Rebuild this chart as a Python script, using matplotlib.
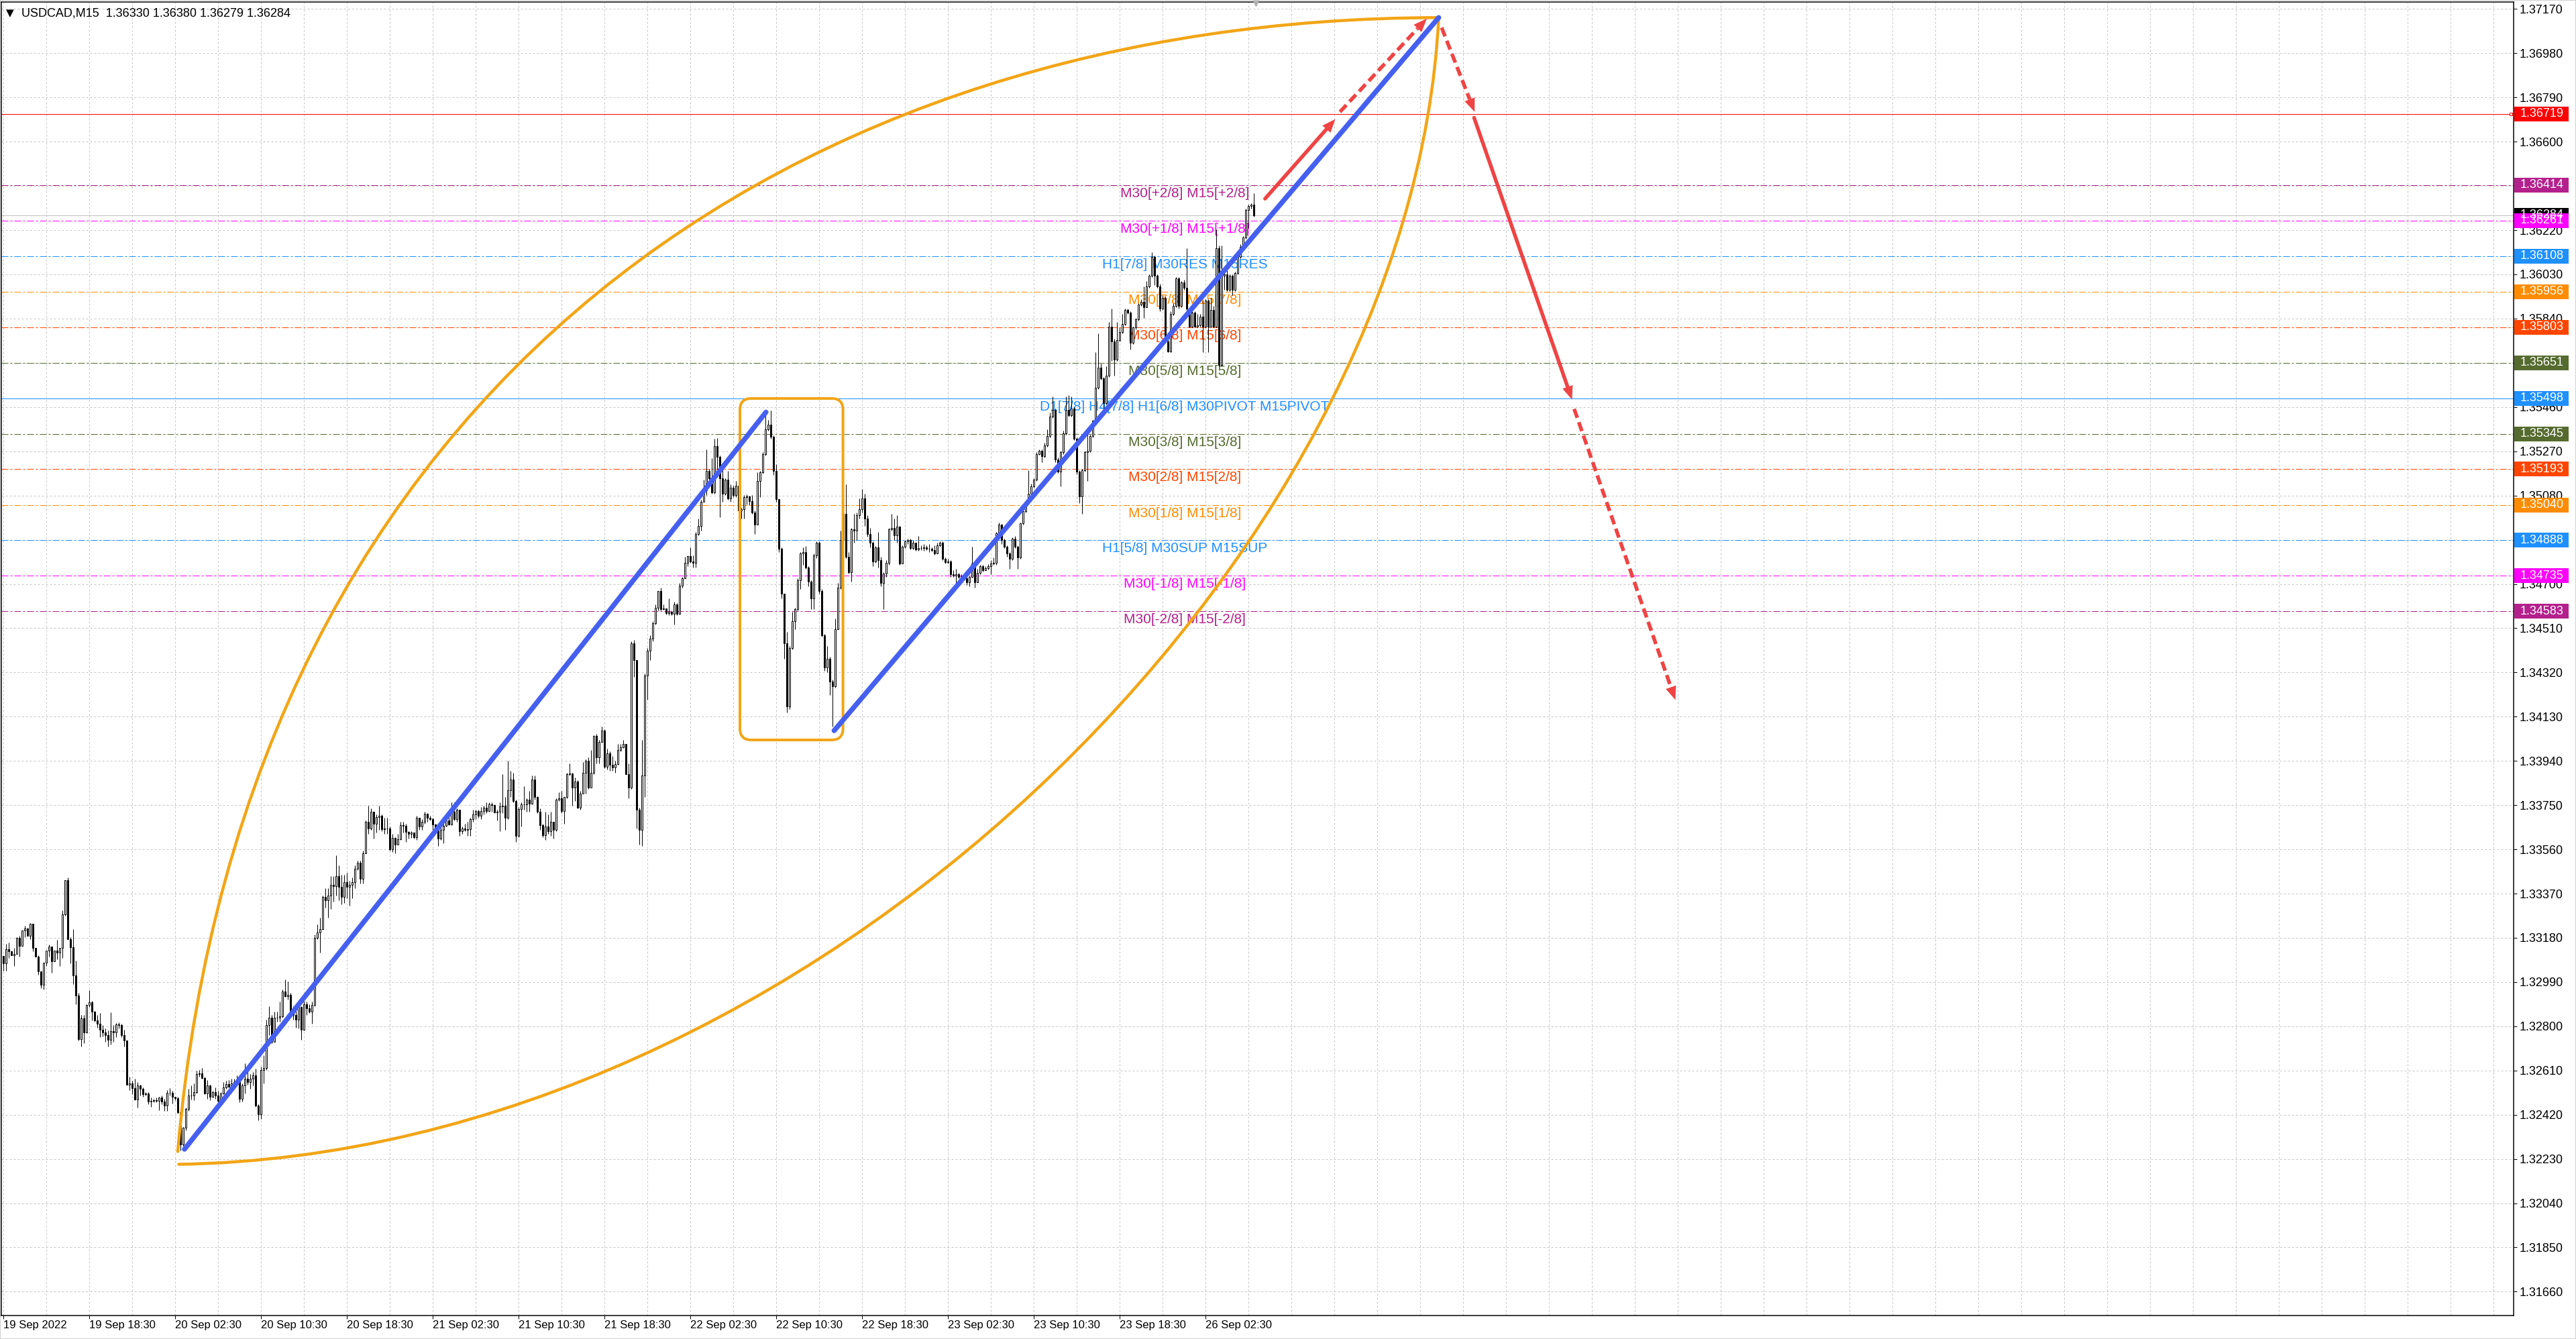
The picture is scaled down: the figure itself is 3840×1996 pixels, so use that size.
"""USDCAD M15 chart with Murrey levels, channel, arcs and forecast arrows."""

import matplotlib

matplotlib.use("Agg")
from matplotlib import pyplot as plt
from matplotlib import font_manager, transforms
from matplotlib.patches import FancyBboxPatch, PathPatch, Polygon, Rectangle
from matplotlib.path import Path

import numpy as np

PX = 0.72  # one pixel in points at dpi 100
plt.rcParams["lines.scale_dashes"] = False

# ---------------------------------------------------------------- data
header_text = "USDCAD,M15  1.36330 1.36380 1.36279 1.36284"
last_bar = 466
first_open = 310.2  # pips above 1.3000

close_pips = [
    306.9, 313.1, 312.2, 310.5, 311.2, 317.9, 314.6, 321.1, 322.0, 318.9,
    324.0, 313.6, 310.0, 303.5, 297.8, 307.4, 312.6, 314.3, 308.0, 312.6,
    311.7, 313.8, 328.0, 342.7, 317.4, 313.9, 301.9, 293.2, 274.4, 283.4,
    277.4, 289.1, 290.3, 286.2, 282.6, 281.0, 278.6, 277.4, 276.2, 274.2,
    277.9, 277.3, 280.7, 280.5, 276.2, 273.8, 254.8, 255.5, 253.4, 248.5,
    254.6, 253.1, 250.9, 251.2, 247.8, 248.1, 248.3, 248.1, 249.5, 247.8,
    245.9, 251.5, 251.4, 249.8, 249.1, 243.0, 229.1, 236.3, 244.5, 250.2,
    250.4, 251.7, 259.4, 259.8, 257.9, 251.2, 254.6, 249.8, 251.7, 250.2,
    248.0, 251.2, 253.6, 255.2, 254.1, 255.5, 256.0, 256.5, 248.8, 254.6,
    257.4, 256.0, 257.4, 258.9, 245.9, 242.1, 261.3, 262.2, 280.5, 283.6,
    273.3, 283.8, 283.6, 284.3, 294.9, 293.0, 293.4, 285.8, 284.8, 282.9,
    288.2, 278.6, 289.6, 287.7, 286.2, 289.3, 317.9, 320.3, 321.8,
    335.5, 334.2, 336.2, 340.7, 340.3, 344.5, 340.0, 335.5, 342.0, 340.0,
    340.7, 342.0, 347.8, 350.3, 343.3, 354.2, 367.7, 365.1, 372.2, 367.1,
    369.9, 370.3, 364.7, 364.9, 365.1, 356.1, 360.9, 358.1, 360.4, 366.4,
    366.0, 363.5, 362.6, 363.2, 361.3, 369.6, 365.8, 367.7, 371.2, 369.6,
    369.0, 366.8, 364.7, 360.6, 364.5, 366.0, 368.4, 366.8, 372.2, 369.0,
    372.9, 363.8, 364.9, 364.5, 364.7, 369.0, 370.9, 372.5, 370.3, 372.5,
    373.8, 372.5, 375.4, 375.0, 372.0, 372.2, 374.4, 374.8, 369.6, 381.5,
    386.1, 376.7, 361.9, 373.2, 375.2, 375.4, 377.4, 375.7, 386.1, 378.4,
    372.2, 366.4, 362.2, 365.8, 363.8, 367.7, 364.5, 377.4, 378.0, 372.5,
    378.4, 388.3, 388.6, 382.5, 385.1, 373.8, 379.9, 389.0, 394.1, 382.5,
    389.0, 404.6, 395.4, 402.2, 407.0, 391.5, 397.3, 392.2, 391.3, 392.5,
    398.6, 399.9, 401.2, 388.3, 382.5,
    444.6, 437.4, 372.9, 364.5, 387.8, 430.8, 441.3, 446.6, 453.2, 459.8,
    467.1, 459.2, 459.6, 457.6, 457.9, 457.2, 461.2, 457.2, 469.4, 472.4,
    479.0, 481.9, 479.7, 479.0, 491.6, 494.9, 505.4, 510.1, 518.7, 515.4,
    509.4, 529.2, 524.6, 515.4, 508.7, 514.7, 506.8, 511.4, 508.1, 512.1,
    501.5, 502.1, 507.4, 507.7, 505.5, 500.8, 495.5, 514.1, 518.0, 525.9,
    536.5, 538.5, 533.2, 518.7, 506.4, 485.0, 465.8, 444.6, 417.5, 442.6,
    453.9, 459.2, 471.7, 483.0, 483.6, 477.0, 471.1, 463.8, 482.3, 487.6,
    467.1, 447.9, 434.1, 438.0, 428.1, 426.1, 450.6, 468.4, 488.9, 500.2,
    481.7, 475.0, 493.5, 492.9, 499.5, 502.1, 506.8, 498.2, 491.6, 487.6,
    479.7, 485.6, 480.3, 470.4, 474.4, 479.0, 493.5, 494.2, 490.9, 494.5,
    478.9, 485.9, 488.3, 488.9, 485.4, 487.7, 484.8, 485.4, 485.4, 485.7,
    485.2, 485.0, 484.6, 483.0, 486.6, 487.7, 480.7, 479.5, 479.8, 474.2,
    473.6, 474.2, 473.1, 473.3, 472.5, 470.7, 473.1, 478.9, 470.7, 474.8,
    477.7, 476.0, 476.8, 477.5, 478.9, 479.2, 491.8, 495.4, 488.9, 485.9,
    483.0, 480.7, 489.5, 485.9, 481.3, 496.0, 501.2, 504.8, 508.9, 511.8,
    514.8, 525.9, 527.1, 524.8, 529.5, 533.6, 541.8, 544.8, 523.6, 518.3,
    526.5, 534.8, 544.8, 542.4, 545.3, 532.4, 518.3, 507.7, 518.9, 526.5,
    527.1, 533.6, 540.1, 554.2, 563.0, 558.3, 547.7, 559.5, 580.6, 574.2,
    566.5, 574.7, 578.3, 581.8, 587.7, 586.5, 573.6, 580.1, 583.6, 590.0,
    591.2, 588.9, 597.7, 602.4, 610.6, 602.4, 597.7, 588.3, 593.0, 574.2,
    570.0, 585.9, 589.4, 601.2, 589.4, 599.4, 597.1, 588.3, 580.6, 586.5,
    580.6, 581.2, 584.7, 580.6, 591.8, 580.6, 587.7, 580.6, 614.1, 564.2,
    602.4, 603.0, 596.5, 602.4, 596.5, 603.6, 610.6, 614.7, 618.9, 630.6,
    632.4, 633.0, 628.4,
]

high_pips = [
    310.2, 315.5, 316.0, 311.9, 313.6, 318.4, 318.9, 321.1, 323.2, 322.2,
    324.2, 324.0, 313.6, 310.5, 303.5, 307.4, 312.6, 315.0, 314.1, 312.6,
    317.0, 313.8, 329.9, 342.7, 343.8, 318.4, 321.8, 308.3, 294.4, 284.8,
    284.8, 289.6, 295.4, 291.0, 286.7, 284.8, 285.8, 280.5, 279.0, 278.1,
    286.0, 280.5, 281.4, 281.6, 281.0, 278.6, 273.8, 258.4, 256.5, 257.4,
    256.0, 255.0, 253.6, 251.7, 251.7, 249.3, 248.8, 249.3, 249.8, 250.2,
    248.8, 252.6, 253.3, 252.4, 249.5, 249.8, 243.5, 236.8, 245.0, 253.1,
    254.6, 255.5, 260.8, 261.3, 262.2, 258.4, 257.0, 255.0, 252.2, 253.6,
    252.2, 251.7, 256.0, 256.5, 257.0, 257.4, 257.5, 258.9, 256.5, 255.5,
    264.2, 262.2, 259.4, 260.3, 261.8, 246.4, 262.7, 267.5, 282.9, 288.6,
    284.8, 286.2, 286.2, 290.6, 295.8, 300.2, 299.2, 294.4, 288.6, 287.7,
    289.1, 288.6, 291.0, 290.6, 289.6, 290.6, 319.4, 323.7, 326.6,
    336.2, 339.4, 339.4, 344.5, 344.5, 353.5, 349.0, 345.2, 345.2, 345.8,
    342.6, 343.9, 349.0, 351.0, 351.0, 355.5, 368.4, 374.8, 373.5, 372.2,
    370.9, 374.8, 370.9, 369.6, 369.6, 365.8, 362.6, 361.3, 362.6, 367.7,
    367.7, 367.1, 363.8, 363.8, 363.2, 370.3, 369.6, 369.0, 372.2, 371.6,
    370.3, 369.6, 367.1, 365.8, 365.8, 367.7, 369.6, 370.3, 376.1, 376.1,
    373.5, 372.9, 365.8, 367.1, 367.7, 369.6, 372.9, 372.9, 372.9, 374.1,
    374.8, 376.1, 376.1, 376.1, 375.4, 372.9, 376.1, 388.3, 378.6, 394.1,
    389.6, 389.0, 377.4, 374.1, 376.1, 383.2, 378.0, 381.2, 387.7, 387.7,
    378.9, 373.5, 367.1, 372.2, 370.9, 372.2, 367.7, 378.0, 380.6, 381.2,
    378.6, 389.0, 392.8, 389.0, 387.0, 385.7, 381.2, 393.4, 394.7, 395.4,
    398.6, 405.0, 405.7, 403.1, 408.9, 407.6, 399.2, 398.0, 396.0, 394.1,
    401.4, 401.2, 403.1, 401.2, 392.8,
    445.3, 446.0, 437.4, 373.9, 403.0, 431.4, 442.6, 447.9, 453.9, 461.2,
    467.1, 468.4, 461.2, 458.5, 463.8, 458.5, 462.5, 461.8, 470.4, 473.1,
    481.6, 482.3, 485.6, 482.3, 492.2, 498.2, 506.1, 514.7, 527.9, 519.3,
    524.0, 532.5, 532.8, 525.3, 519.3, 515.4, 518.7, 512.7, 512.1, 514.1,
    514.1, 502.8, 508.1, 508.5, 508.0, 508.1, 501.5, 518.0, 518.7, 526.6,
    542.5, 540.5, 544.4, 533.9, 521.3, 506.1, 485.6, 465.8, 449.3, 443.3,
    457.9, 459.8, 472.4, 483.6, 485.6, 486.3, 477.7, 471.7, 483.0, 488.3,
    488.3, 467.8, 448.6, 443.3, 438.7, 428.8, 455.2, 470.4, 492.9, 502.1,
    512.7, 483.6, 494.2, 500.2, 500.8, 506.8, 510.7, 508.8, 499.5, 494.2,
    488.3, 486.3, 492.2, 481.6, 475.0, 480.3, 494.2, 500.2, 498.2, 499.5,
    495.0, 486.6, 488.9, 489.5, 489.5, 488.9, 487.1, 490.7, 486.6, 487.1,
    486.6, 487.1, 485.8, 486.6, 487.7, 488.3, 488.3, 481.3, 480.7, 480.1,
    476.0, 476.6, 474.8, 474.2, 474.0, 474.0, 473.6, 485.9, 479.5, 476.6,
    478.3, 478.3, 477.7, 478.5, 480.1, 481.3, 492.4, 496.5, 495.9, 489.5,
    486.6, 483.6, 490.1, 490.7, 486.6, 496.5, 501.8, 505.9, 518.9, 513.0,
    515.4, 526.5, 527.7, 527.7, 530.6, 536.5, 543.6, 550.6, 545.3, 524.2,
    527.1, 535.9, 550.6, 551.2, 550.6, 545.9, 533.0, 518.9, 519.5, 527.1,
    535.4, 534.2, 540.6, 569.5, 577.7, 564.8, 558.9, 563.6, 582.4, 588.3,
    575.3, 582.4, 580.1, 585.9, 588.3, 588.3, 587.1, 580.6, 584.2, 590.6,
    592.4, 597.7, 600.1, 603.0, 612.4, 611.2, 603.0, 598.9, 594.1, 593.6,
    576.5, 587.1, 590.6, 601.8, 601.8, 600.0, 600.6, 614.1, 588.9, 587.1,
    587.1, 585.9, 585.9, 591.8, 592.4, 592.4, 593.0, 589.4, 622.4, 615.3,
    615.3, 605.9, 605.9, 603.0, 603.0, 604.1, 611.2, 615.9, 619.4, 631.2,
    633.0, 633.6, 638.0,
]

low_pips = [
    304.0, 304.0, 309.3, 310.5, 305.9, 311.2, 309.8, 314.6, 318.4, 318.9,
    317.4, 312.2, 310.0, 302.1, 296.3, 295.8, 305.9, 309.8, 303.0, 308.0,
    308.8, 305.9, 309.3, 327.5, 317.4, 306.9, 298.2, 289.6, 273.8, 271.4,
    272.8, 277.1, 288.2, 282.4, 281.9, 279.5, 275.2, 275.7, 273.3, 271.4,
    272.3, 273.3, 275.2, 279.0, 275.2, 271.4, 254.8, 252.6, 250.7, 248.3,
    245.0, 250.2, 249.8, 250.2, 246.4, 245.4, 247.4, 247.4, 244.0, 246.4,
    243.5, 243.5, 250.2, 246.9, 248.3, 242.6, 226.7, 228.6, 235.4, 243.5,
    248.5, 248.3, 251.2, 258.4, 257.4, 250.7, 248.8, 248.3, 249.3, 248.8,
    247.4, 247.8, 250.7, 253.1, 253.6, 254.6, 254.8, 255.5, 247.4, 247.8,
    251.2, 255.0, 253.1, 254.6, 245.4, 239.7, 240.2, 255.5, 261.3, 276.2,
    272.8, 273.3, 281.9, 281.9, 283.8, 292.5, 291.5, 284.8, 282.9, 279.5,
    279.0, 274.2, 278.1, 284.8, 285.8, 281.0, 288.6, 317.4, 311.7,
    321.4, 331.0, 326.5, 330.4, 333.6, 336.2, 334.2, 332.3, 333.0, 334.9,
    331.7, 334.9, 339.4, 347.1, 341.3, 341.3, 354.2, 362.6, 364.5, 360.6,
    363.2, 364.5, 363.8, 362.6, 362.6, 355.5, 354.8, 354.2, 358.1, 360.0,
    363.2, 359.3, 360.6, 360.9, 360.6, 360.0, 364.5, 364.5, 367.1, 367.7,
    368.4, 364.5, 363.2, 357.4, 360.0, 358.7, 365.8, 366.4, 366.4, 368.4,
    367.7, 361.9, 362.6, 363.8, 361.9, 361.9, 367.7, 369.0, 369.6, 369.0,
    370.9, 371.6, 372.2, 372.2, 371.6, 368.4, 363.8, 371.6, 364.5, 369.0,
    378.6, 376.1, 359.3, 361.3, 365.8, 372.9, 372.2, 372.2, 375.4, 377.4,
    371.6, 364.5, 361.3, 360.0, 362.6, 361.9, 360.6, 363.8, 376.7, 371.6,
    367.1, 378.0, 387.7, 374.8, 376.7, 373.5, 372.9, 379.9, 379.9, 381.9,
    382.5, 388.3, 392.8, 392.8, 401.8, 390.9, 390.2, 389.6, 389.6, 389.0,
    392.2, 398.0, 399.5, 388.3, 378.0,
    381.9, 430.0, 365.0, 358.0, 357.4, 378.5, 420.2, 437.4, 445.3, 452.6,
    458.5, 458.5, 458.8, 456.9, 456.5, 456.5, 452.6, 456.5, 456.9, 468.4,
    472.4, 477.7, 479.0, 477.0, 477.0, 490.9, 492.9, 505.4, 508.1, 514.1,
    508.8, 508.8, 516.0, 498.8, 505.4, 508.1, 506.1, 505.4, 507.4, 507.4,
    500.8, 498.2, 498.2, 504.1, 503.8, 500.2, 491.6, 495.5, 507.4, 517.3,
    525.3, 535.9, 532.5, 516.7, 505.4, 483.6, 463.8, 438.0, 414.9, 416.2,
    442.0, 450.6, 458.5, 467.8, 478.3, 476.4, 469.1, 459.2, 459.2, 481.0,
    465.8, 447.3, 432.7, 432.1, 422.2, 408.9, 425.5, 450.6, 467.8, 488.3,
    481.0, 474.4, 471.1, 487.6, 488.9, 498.2, 500.8, 494.9, 490.2, 485.6,
    477.7, 479.0, 477.0, 469.1, 459.2, 473.1, 478.3, 492.9, 488.9, 487.6,
    478.3, 478.9, 485.4, 487.1, 484.8, 484.8, 484.2, 484.2, 484.5, 484.2,
    484.5, 483.6, 483.9, 482.4, 483.0, 486.0, 480.1, 478.9, 478.9, 473.1,
    473.1, 470.1, 472.4, 472.1, 471.8, 469.5, 468.9, 472.8, 468.3, 470.7,
    474.2, 475.4, 476.0, 476.2, 474.2, 478.3, 478.3, 491.2, 487.1, 485.4,
    481.8, 476.6, 480.1, 485.4, 476.6, 480.7, 495.4, 500.7, 504.2, 508.3,
    511.3, 514.2, 525.4, 522.4, 524.2, 528.9, 533.0, 541.2, 522.4, 517.7,
    511.8, 525.9, 534.2, 541.8, 541.8, 531.8, 517.1, 504.8, 500.1, 518.3,
    514.2, 526.5, 533.0, 539.5, 553.6, 557.7, 543.6, 547.1, 558.9, 565.9,
    559.5, 565.9, 574.2, 577.7, 581.2, 585.9, 570.6, 573.0, 579.5, 583.0,
    589.4, 584.2, 592.4, 597.1, 601.8, 598.3, 597.1, 587.1, 587.7, 573.6,
    569.5, 569.5, 585.3, 588.9, 588.3, 588.9, 596.5, 587.1, 580.1, 580.1,
    580.1, 580.1, 580.6, 569.5, 580.1, 569.5, 580.1, 580.1, 580.1, 563.6,
    563.6, 596.5, 595.9, 595.9, 594.2, 595.9, 603.0, 610.0, 614.1, 618.3,
    623.0, 631.2, 627.9,
]

date_tick_bars = [0, 32, 64, 96, 128, 160, 192, 224, 256, 288, 320, 352, 384, 416, 448]
date_tick_labels = [
    "19 Sep 2022", "19 Sep 18:30", "20 Sep 02:30", "20 Sep 10:30", "20 Sep 18:30",
    "21 Sep 02:30", "21 Sep 10:30", "21 Sep 18:30", "22 Sep 02:30", "22 Sep 10:30",
    "22 Sep 18:30", "23 Sep 02:30", "23 Sep 10:30", "23 Sep 18:30", "26 Sep 02:30",
]
price_ticks = [
    1.37170, 1.36980, 1.36790, 1.36600, 1.36410, 1.36220, 1.36030, 1.35840,
    1.35650, 1.35460, 1.35270, 1.35080, 1.34890, 1.34700, 1.34510, 1.34320,
    1.34130, 1.33940, 1.33750, 1.33560, 1.33370, 1.33180, 1.32990, 1.32800,
    1.32610, 1.32420, 1.32230, 1.32040, 1.31850, 1.31660,
]

level_prices = [1.36414, 1.36261, 1.36108, 1.35956, 1.35803, 1.35651, 1.35498,
                1.35345, 1.35193, 1.35040, 1.34888, 1.34735, 1.34583]
level_texts = [
    "M30[+2/8] M15[+2/8]", "M30[+1/8] M15[+1/8]", "H1[7/8] M30RES M15RES",
    "M30[7/8] M15[7/8]", "M30[6/8] M15[6/8]", "M30[5/8] M15[5/8]",
    "D1[7/8] H4[7/8] H1[6/8] M30PIVOT M15PIVOT",
    "M30[3/8] M15[3/8]", "M30[2/8] M15[2/8]", "M30[1/8] M15[1/8]",
    "H1[5/8] M30SUP M15SUP", "M30[-1/8] M15[-1/8]", "M30[-2/8] M15[-2/8]",
]
level_colors = ["#B4208C", "#FF00FF", "#1E90FF", "#FF8C00", "#FF4500", "#556B2F",
                "#1E90FF", "#556B2F", "#FF4500", "#FF8C00", "#1E90FF", "#FF00FF",
                "#B4208C"]
level_styles = ["dashdot"] * 6 + ["solid"] + ["dashdot"] * 6
level_label_bar = 440.25

resistance_price = 1.36719
current_price = 1.36284

channel_low_bars, channel_low_prices = [67.5, 284.2], [1.32272, 1.35438]
channel_high_bars, channel_high_prices = [309.6, 534.9], [1.34070, 1.37133]
arc_upper_bars = [65.0, 90.0, 300.0, 534.9]
arc_upper_prices = [1.32262, 1.35600, 1.37130, 1.37133]
arc_lower_bars = [65.4, 300.0, 525.0, 534.9]
arc_lower_prices = [1.32207, 1.32250, 1.34800, 1.37133]
box_bars = [274.5, 312.9]
box_prices = [1.34030, 1.35497]

# forecast arrows: start bar, start price, end bar, end price, dashed
forecast_arrows = [
    (470.2, 1.36355, 496.4, 1.36697, False),
    (498.1, 1.36728, 530.5, 1.37129, True),
    (536.0, 1.37090, 548.3, 1.36728, True),
    (548.1, 1.36703, 584.6, 1.35492, False),
    (585.4, 1.35452, 623.1, 1.34202, True),
]

# ---------------------------------------------------------------- style
BLUE = "#4560F0"
ORANGE = "#F2A516"
RED = "#EF4444"
GRID = "#C4C4C4"

names = {f.name for f in font_manager.fontManager.ttflist}
BASE_FONT = "Liberation Sans" if "Liberation Sans" in names else "DejaVu Sans"
if "Liberation Sans Narrow" in names:
    DATE_FONT, DATE_SIZE = "Liberation Sans Narrow", 14.0
else:
    DATE_FONT, DATE_SIZE = BASE_FONT, 12.0
plt.rcParams["font.family"] = [BASE_FONT, "DejaVu Sans"]

W, H = 3840, 1996
AX_L, AX_R, AX_T, AX_B = 2, 3747, 3, 1961

fig = plt.figure(figsize=(W / 100, H / 100), dpi=100)
fig.patch.set_facecolor("white")
ax = fig.add_axes([AX_L / W, (H - AX_B) / H, (AX_R - AX_L) / W, (AX_B - AX_T) / H])
XLIM = (-0.75, 935.5)
YLIM = (1.315574, 1.372000)
ax.set_xlim(*XLIM)
ax.set_ylim(*YLIM)
ax.set_autoscale_on(False)
price_per_px = (YLIM[1] - YLIM[0]) / (AX_B - AX_T)

# grid
for gx in np.arange(0, XLIM[1], 16):
    ax.axvline(gx, color=GRID, lw=PX, dashes=(3 * PX, 3 * PX), zorder=0.5)
for gy in price_ticks:
    ax.axhline(gy, color=GRID, lw=PX, dashes=(3 * PX, 3 * PX), zorder=0.5)

# levels
for price, text, color, style in zip(level_prices, level_texts, level_colors, level_styles):
    if style == "solid":
        ax.axhline(price, color=color, lw=PX, zorder=1)
    else:
        ax.axhline(price, color=color, lw=PX, dashes=(10 * PX, 3 * PX, 3 * PX, 3 * PX), zorder=1)
    ax.annotate(text, (level_label_bar, price), xytext=(0, -3 * PX), textcoords="offset points",
                ha="center", va="top", color=color, fontsize=15, zorder=1.5)
ax.axhline(resistance_price, color="#FF0000", lw=PX, zorder=1)
ax.plot([XLIM[1] - 0.9], [resistance_price], marker="s", ms=5 * PX, mfc="white",
        mec="#FF0000", mew=PX, zorder=1.2, clip_on=False)
ax.axhline(current_price, color="#C0C0C0", lw=PX, zorder=1)

# candles
close = 1.3 + np.array(close_pips) / 10000.0
high = 1.3 + np.array(high_pips) / 10000.0
low = 1.3 + np.array(low_pips) / 10000.0
opn = np.concatenate([[1.3 + first_open / 10000.0], close[:-1]])
high = np.maximum(high, np.maximum(opn, close))
low = np.minimum(low, np.minimum(opn, close))
n = close.size
bars = np.arange(n) + (last_bar - n + 1)
bull = close >= opn
ax.vlines(bars, low, high, colors="black", lw=PX, zorder=2)
ax.bar(bars, np.abs(close - opn), bottom=np.minimum(opn, close), width=0.6,
       color=np.where(bull, "white", "black"), edgecolor="black", linewidth=PX, zorder=2.1)

# orange arcs and box
for bx, by in ((arc_upper_bars, arc_upper_prices), (arc_lower_bars, arc_lower_prices)):
    path = Path(list(zip(bx, by)), [Path.MOVETO, Path.CURVE4, Path.CURVE4, Path.CURVE4])
    ax.add_patch(PathPatch(path, facecolor="none", edgecolor=ORANGE, lw=4.5 * PX,
                           capstyle="round", zorder=3))
aspect = price_per_px * 4.0
ax.add_patch(FancyBboxPatch((box_bars[0], box_prices[0]), box_bars[1] - box_bars[0],
                            box_prices[1] - box_prices[0],
                            boxstyle="round,pad=0,rounding_size=4.25", mutation_aspect=aspect,
                            facecolor="none", edgecolor=ORANGE, lw=4 * PX, zorder=3))

# channel lines
for bx, by in ((channel_low_bars, channel_low_prices), (channel_high_bars, channel_high_prices)):
    ax.plot(bx, by, color=BLUE, lw=7.5 * PX, solid_capstyle="round", zorder=4)

# forecast arrows
HEAD_LEN, HEAD_HALF = 20.0, 8.0
inv = ax.transData.inverted()
for x0, y0, x1, y1, dashed in forecast_arrows:
    p0 = ax.transData.transform((x0, y0))
    p1 = ax.transData.transform((x1, y1))
    d = (p1 - p0) / np.hypot(*(p1 - p0))
    nrm = np.array([-d[1], d[0]])
    base = p1 - d * HEAD_LEN
    bx, by = inv.transform(base)
    if dashed:
        ax.plot([x0, bx], [y0, by], color=RED, lw=5.5 * PX, dashes=(14 * PX, 7 * PX),
                dash_capstyle="butt", zorder=6)
    else:
        ax.plot([x0, bx], [y0, by], color=RED, lw=5.5 * PX, solid_capstyle="round", zorder=6)
    head = inv.transform(np.array([p1, base + nrm * HEAD_HALF, base - nrm * HEAD_HALF]))
    ax.add_patch(Polygon(head, closed=True, facecolor=RED, edgecolor="none", zorder=6))

# chart shift marker
ax.plot([last_bar + 0.75], [1.0], marker="v", ms=9, color="#B0B0B0", mec="#B0B0B0",
        transform=transforms.blended_transform_factory(ax.transData, ax.transAxes),
        clip_on=False, zorder=7)

# axes
for sp in ax.spines.values():
    sp.set_color("black")
    sp.set_linewidth(1.5 * PX)
ax.yaxis.tick_right()
ax.set_yticks(price_ticks)
ax.set_yticklabels([f"{p:.5f}" for p in price_ticks])
ax.tick_params(axis="y", direction="out", length=5 * PX, width=PX, pad=4 * PX,
               labelsize=13, colors="black")
ax.set_xticks(date_tick_bars)
ax.set_xticklabels(date_tick_labels, ha="left", fontfamily=DATE_FONT, fontsize=DATE_SIZE)
ax.tick_params(axis="x", direction="out", length=5 * PX, width=PX, pad=2 * PX, colors="black")

# price boxes on the right scale
ytrans = transforms.blended_transform_factory(fig.transFigure, ax.transData)
box_h = 22 * price_per_px
box_items = [(current_price, "black"), (resistance_price, "#FF0000")]
box_items += list(zip(level_prices, level_colors))
for price, color in box_items:
    ax.add_patch(Rectangle((3748 / W, price - box_h / 2), 81 / W, box_h, transform=ytrans,
                           facecolor=color, edgecolor="none", clip_on=False, zorder=8))
    ax.text(3757 / W, price, f"{price:.5f}", transform=ytrans, ha="left", va="center",
            color="white", fontsize=13, clip_on=False, zorder=9)

# header
fig.text(9 / W, 1 - 20 / H, "\u25bc", fontsize=11, va="center", ha="left", color="black",
         family=["DejaVu Sans"])
fig.text(32 / W, 1 - 20 / H, header_text, fontsize=13, va="center", ha="left", color="black")
fig.add_artist(Rectangle((0, 0), 1, 1, transform=fig.transFigure, fill=False,
                         edgecolor="#D0D0D0", lw=2 * PX))

fig.savefig("out.png", dpi=100, facecolor="white")
